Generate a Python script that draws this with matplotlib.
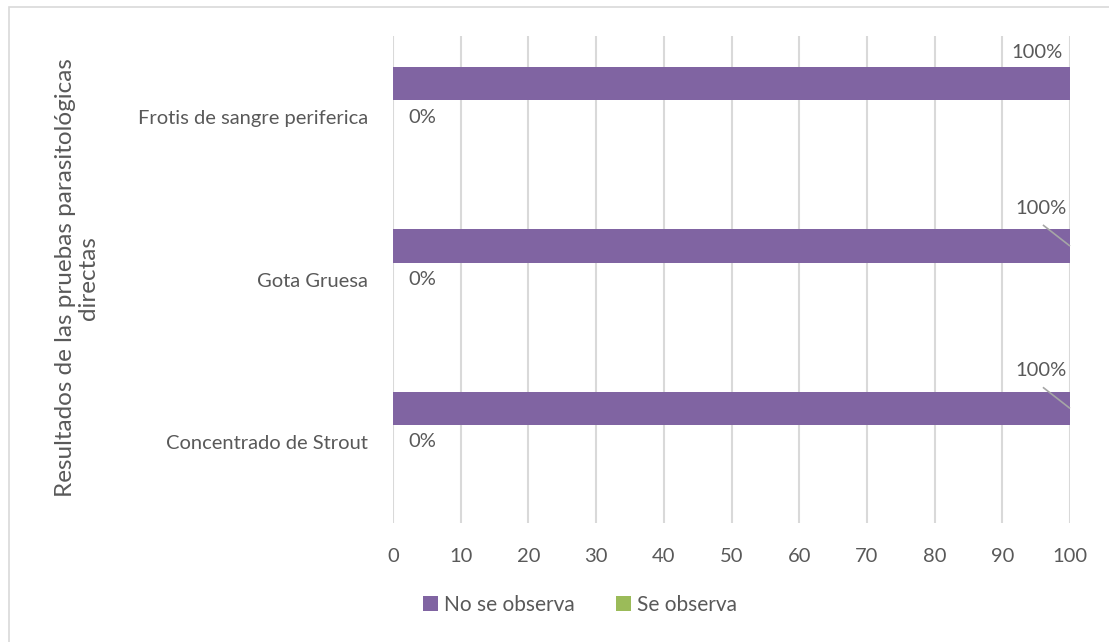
import matplotlib
matplotlib.use("Agg")
import matplotlib.pyplot as plt
from matplotlib.patches import Rectangle, Patch
import numpy as np

categories = ["Concentrado de Strout", "Gota Gruesa", "Frotis de sangre periferica"]
no_se_observa = [100, 100, 100]
se_observa = [0, 0, 0]
series_names = ["No se observa", "Se observa"]
x_ticks = [0, 10, 20, 30, 40, 50, 60, 70, 80, 90, 100]
y_title = "Resultados de las pruebas parasitológicas\ndirectas"

PURPLE = "#8064A2"
GREEN = "#9BBB59"
TXT = "#595959"
GRID = "#D9D9D9"
FONT = ["Lato", "DejaVu Sans"]
FS = 14.5

plt.rcParams["font.family"] = FONT

fig = plt.figure(figsize=(11.09, 6.42), dpi=100)
W, H = 1109, 642
ax = fig.add_axes([393 / W, 1 - 523 / H, (1070 - 393) / W, (523 - 36) / H])

# chart border
fig.patches.append(Rectangle((9 / W, -0.01), 1.02, 1 - 7 / H + 0.01, transform=fig.transFigure,
                             fill=False, edgecolor="#D9D9D9", linewidth=1.2))

y = np.arange(len(categories))
bh = 0.206
ax.barh(y + bh, no_se_observa, height=bh, color=PURPLE, label=series_names[0], zorder=3)
ax.barh(y, se_observa, height=bh, color=GREEN, label=series_names[1], zorder=3)

ax.set_xlim(0, 100)
ax.set_ylim(-0.5, len(categories) - 0.5)
ax.set_xticks(x_ticks)
ax.set_xticklabels([str(t) for t in x_ticks], fontsize=FS, color=TXT)
ax.set_yticks(y)
ax.set_yticklabels(categories, fontsize=FS, color=TXT)
ax.tick_params(axis="both", length=0)
ax.tick_params(axis="x", pad=18)
ax.tick_params(axis="y", pad=18)
ax.grid(axis="x", color=GRID, linewidth=1.5, zorder=0)
ax.grid(axis="y", visible=False)
for s in ax.spines.values():
    s.set_visible(False)

# data labels
for i, (v1, v0) in enumerate(zip(no_se_observa, se_observa)):
    if i == len(categories) - 1:
        ax.text(v1 - 4.9, y[i] + bh + 0.19, f"{v1}%", ha="center", va="center",
                fontsize=FS, color=TXT, zorder=4)
    else:
        ax.text(v1 - 4.3, y[i] + 0.44, f"{v1}%", ha="center", va="center",
                fontsize=FS, color=TXT, zorder=4)
        ax.plot([v1 - 4.0, v1], [y[i] + 0.336, y[i] + bh], color="#A6A6A6",
                lw=1.2, zorder=4, solid_capstyle="butt", clip_on=False)
    ax.text(v0 + 2.2, y[i], f"{v0}%", ha="left", va="center", fontsize=FS, color=TXT, zorder=4)

fig.text(77 / W, 1 - 278 / H, y_title, rotation=90, ha="center", va="center",
         fontsize=17.5, color=TXT, multialignment="center", linespacing=1.15)

handles = [Patch(facecolor=PURPLE), Patch(facecolor=GREEN)]
fig.legend(handles, series_names, loc="center", bbox_to_anchor=(580 / W, 1 - 605 / H),
           ncol=2, frameon=False, fontsize=15, labelcolor=TXT,
           handlelength=0.7, handleheight=0.7, handletextpad=0.3, columnspacing=2.0)

fig.savefig("out.png", dpi=100)
